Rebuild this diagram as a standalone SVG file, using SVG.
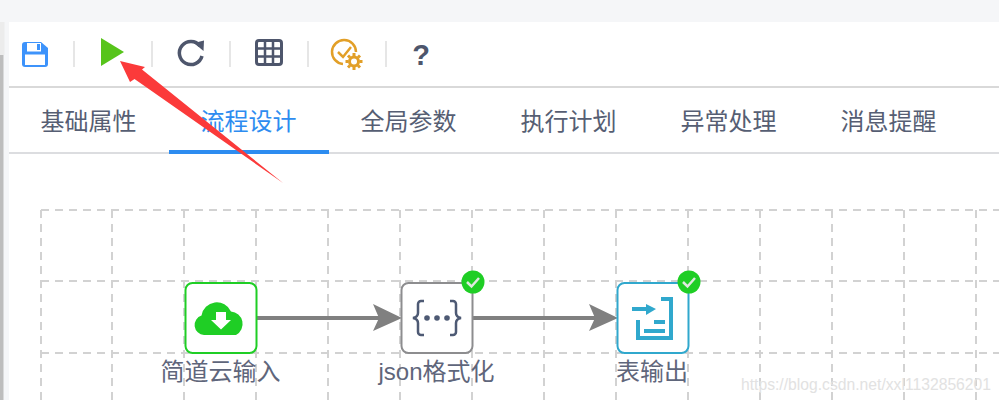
<svg xmlns="http://www.w3.org/2000/svg" width="999" height="400" viewBox="0 0 999 400">
<style>
text{font-family:"Liberation Sans","Noto Sans CJK SC",sans-serif}
.tab{font-size:24px;fill:#565e73}
.lbl{font-size:24px;fill:#5f667b}
.sep{stroke:#e6e6e6;stroke-width:2}
.grid{stroke:#d2d2d2;stroke-width:2;stroke-dasharray:8 6;fill:none}
.node{fill:#fff;stroke-width:2}
.ok{fill:#1fce25}
.conn{stroke:#808080;stroke-width:4;fill:none}
</style>
<rect width="999" height="400" fill="#fff"/>
<rect width="999" height="22" fill="#f5f6f8"/>
<rect y="22" width="9" height="378" fill="#f5f6f8"/>
<rect y="22" width="4.500" height="33" fill="#ececec"/>
<rect y="55" width="3.500" height="345" fill="#bdbdbd"/>
<path d="M9 400V32a10 10 0 0 1 10-10H999V400Z" fill="#fff"/>
<g id="toolbar">
<g id="save"><path d="M22 45a3 3 0 0 1 3-3H41l7 6V64a3 3 0 0 1-3 3H25a3 3 0 0 1-3-3Z" fill="#3d93fb"/><rect x="27" y="43" width="14" height="8.500" fill="#fff"/><rect x="37" y="44" width="3" height="6" fill="#3d93fb"/><rect x="25" y="54.500" width="20" height="10.500" fill="#fff"/></g>
<path id="run" d="M101 38L124 52L101 66Z" fill="#57c41b"/>
<path id="refresh" d="M200 46A11.500 11.500 0 1 0 202 56" fill="none" stroke="#4e566c" stroke-width="3.500"/>
<path d="M194 43L204 40.500L203.500 51Z" fill="#4e566c"/>
<g id="table"><rect x="256.500" y="40.500" width="25" height="24" rx="2.500" fill="#fff" stroke="#4e566c" stroke-width="3"/><path d="M265 40V65M273 40V65M256 48.500H282M256 56.500H282" stroke="#4e566c" stroke-width="2.500"/></g>
<g id="schedule" fill="none" stroke="#e29f27"><path d="M356 52A12 12 0 1 0 343 64" stroke-width="2.500"/><path d="M338 52L343 57L351 47" stroke-width="2.500"/><circle cx="354" cy="61.500" r="4.500" stroke-width="3"/><path d="M354 53V56M354 67V70M345.500 61.500H348.500M359.500 61.500H362.500M348 55.500L350 57.500M358 65.500L360 67.500M348 67.500L350 65.500M358 57.500L360 55.500" stroke-width="3"/></g>
<text x="421" y="65" font-size="29" font-weight="700" text-anchor="middle" fill="#4e566c">?</text>
<path class="sep" d="M74 41V67M152 41V67M230 41V67M308 41V67M386 41V67"/>
</g>
<rect x="9" y="86" width="990" height="2" fill="#d9d9d9"/>
<rect x="9" y="152" width="990" height="2" fill="#dcdde0"/>
<rect x="169" y="150" width="160" height="4" fill="#2d8cf0"/>
<g id="tabs">
<text class="tab" x="40.500" y="130">基础属性</text>
<text class="tab" x="200.500" y="130" style="fill:#2d8cf0">流程设计</text>
<text class="tab" x="360.500" y="130">全局参数</text>
<text class="tab" x="520.500" y="130">执行计划</text>
<text class="tab" x="680.500" y="130">异常处理</text>
<text class="tab" x="840.500" y="130">消息提醒</text>
</g>
<path class="grid" d="M41 210H999M41 281H999M41 353H999M41 210V400M112 210V400M184 210V400M256 210V400M328 210V400M400 210V400M472 210V400M544 210V400M616 210V400M688 210V400M760 210V400M832 210V400M904 210V400M976 210V400"/>
<g id="connectors">
<path class="conn" d="M256 318H385"/><path d="M373 304L402 318L373 331L379 318Z" fill="#808080"/>
<path class="conn" d="M472 318H601"/><path d="M589 304L618 318L589 331L595 318Z" fill="#808080"/>
</g>
<g id="node-input">
<rect class="node" x="185.500" y="283" width="71" height="70" rx="7" stroke="#1fce25"/>
<path d="M204 335a10 10 0 0 1-2.500-19.500a15.500 15.500 0 0 1 29.500-4a12.500 12.500 0 0 1 5 23.500Z" fill="#1fce25"/>
<path d="M216 312H226V320H231L221 329.500L211 320H216Z" fill="#fff"/>
<text class="lbl" x="220.500" y="380" text-anchor="middle">简道云输入</text>
</g>
<g id="node-json">
<rect class="node" x="401.500" y="283" width="71" height="70" rx="7" stroke="#8d8d8f"/>
<path d="M424 301H421a3 3 0 0 0-3 3V313q0 4-5 5q5 1 5 5V332a3 3 0 0 0 3 3H424M450 301H453a3 3 0 0 1 3 3V313q0 4 5 5q-5 1-5 5V332a3 3 0 0 1-3 3H450" fill="none" stroke="#4e5a74" stroke-width="2.500"/>
<circle cx="427" cy="318" r="2.800" fill="#4e5a74"/><circle cx="437" cy="318" r="2.800" fill="#4e5a74"/><circle cx="447" cy="318" r="2.800" fill="#4e5a74"/>
<circle class="ok" cx="473" cy="282" r="11.500"/>
<path d="M467 282L471.500 286.500L479 278" fill="none" stroke="#dfe8df" stroke-width="2.500"/>
<text class="lbl" x="436.500" y="380" text-anchor="middle">json格式化</text>
</g>
<g id="node-output">
<rect class="node" x="617.500" y="283" width="71" height="70" rx="7" stroke="#30a8cd"/>
<path d="M661 299H671V338H638V320M644 331H665M654 322H665M632 309H652" fill="none" stroke="#30a8cd" stroke-width="4"/>
<path d="M646 304L656 309L646 315Z" fill="#30a8cd"/>
<circle class="ok" cx="689" cy="282" r="11.500"/>
<path d="M683 282L687.500 286.500L695 278" fill="none" stroke="#dfe8df" stroke-width="2.500"/>
<text class="lbl" x="652" y="380" text-anchor="middle">表输出</text>
</g>
<path id="annotation" d="M120 61L145 67L142 69.500L283 183L134.500 79L130 82Z" fill="#fb3a3a"/>
<text x="741" y="390" font-size="15.700" fill="#e2e2e2">https://blog.csdn.net/xxl1132856201</text>
</svg>
